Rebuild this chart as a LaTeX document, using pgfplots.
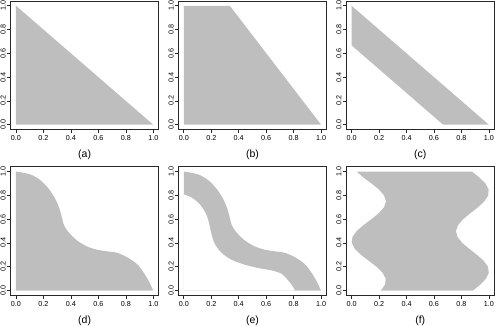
\documentclass[border=0pt]{standalone}
\usepackage{fontspec}
\setmainfont{Liberation Sans}
\usepackage{pgfplots}
\pgfplotsset{compat=1.18}

\definecolor{rgray}{RGB}{190,190,190}
\definecolor{rline}{RGB}{40,40,40}

\pgfplotsset{
  panel/.style={
    scale only axis, width=148.3pt, height=128.5pt, anchor=south west,
    xmin=-0.04, xmax=1.04, ymin=-0.04, ymax=1.04,
    xtick={0,0.2,0.4,0.6,0.8,1}, ytick={0,0.2,0.4,0.6,0.8,1},
    tick align=outside, xtick pos=bottom, ytick pos=left,
    major tick length=3.5pt,
    tick style={rline, line width=0.6pt},
    axis line style={rline, line width=0.8pt},
    axis on top,
    tick label style={font=\fontsize{7.2}{8}\selectfont},
    /pgf/number format/fixed,
    /pgf/number format/fixed zerofill,
    /pgf/number format/precision=1,
    /pgf/number format/assume math mode=true,
    yticklabel style={rotate=90, anchor=south, inner sep=1pt},
    xticklabel style={inner sep=1pt, yshift=-1.5pt},
    every axis x label/.style={at={(axis description cs:0.5,0)}, anchor=center,
      yshift=-25.5pt, font=\fontsize{10.5}{12}\selectfont},
  }
}

\begin{document}
\begin{tikzpicture}
\path[use as bounding box] (0,0) rectangle (495pt,326pt);

% (a)
\begin{axis}[panel, at={(10.5pt,196.5pt)}, xlabel={(a)}]
\addplot[fill=rgray, draw=none] coordinates {(0,1) (1,0)} \closedcycle;
\end{axis}

% (b)
\begin{axis}[panel, at={(178.3pt,196.5pt)}, xlabel={(b)}]
\addplot[fill=rgray, draw=none] coordinates {(0,1) (0.335,1) (1,0)} \closedcycle;
\end{axis}

% (c)
\begin{axis}[panel, at={(346.1pt,196.5pt)}, xlabel={(c)}]
\addplot[fill=rgray, draw=none] coordinates {(0,1) (1,0) (0.667,0) (0,0.667)} -- cycle;
\end{axis}

% (d)
\begin{axis}[panel, at={(10.5pt,30.7pt)}, xlabel={(d)}]
\addplot[fill=rgray, draw=none, smooth] coordinates {
(0,1) (0.102,0.977) (0.175,0.930) (0.236,0.859) (0.284,0.775) (0.316,0.690)
(0.333,0.620) (0.350,0.549) (0.381,0.493) (0.442,0.423) (0.515,0.372)
(0.587,0.344) (0.660,0.330) (0.733,0.318) (0.806,0.282) (0.879,0.225)
(0.927,0.155) (0.964,0.085) (0.988,0.028) (1,0)} \closedcycle;
\end{axis}

% (e)
\begin{axis}[panel, at={(178.3pt,30.7pt)}, xlabel={(e)}]
\addplot[fill=rgray, draw=none, smooth] coordinates {
(0,1) (0.102,0.977) (0.175,0.930) (0.236,0.859) (0.284,0.775) (0.316,0.690)
(0.333,0.620) (0.350,0.549) (0.381,0.493) (0.442,0.423) (0.515,0.372)
(0.587,0.344) (0.660,0.330) (0.733,0.318) (0.806,0.282) (0.879,0.225)
(0.927,0.155) (0.964,0.085) (0.988,0.028) (1,0)} \closedcycle;
\addplot[fill=white, draw=none, smooth] coordinates {
(0,0.808) (0.054,0.783) (0.102,0.741) (0.139,0.690) (0.170,0.620) (0.187,0.549)
(0.200,0.479) (0.224,0.394) (0.273,0.318) (0.345,0.259) (0.443,0.217)
(0.540,0.189) (0.637,0.169) (0.710,0.141) (0.759,0.085) (0.796,0.028)
(0.808,0)} \closedcycle;
\end{axis}

% (f)
\begin{axis}[panel, at={(346.1pt,30.7pt)}, xlabel={(f)}]
\addplot[fill=rgray, draw=none] coordinates {
(0.2134,0) (0.2439,0.05) (0.2485,0.10) (0.2261,0.15) (0.1817,0.20) (0.125,0.25)
(0.0683,0.30) (0.0239,0.35) (0.0015,0.40) (0.0061,0.45) (0.0366,0.50) (0.0864,0.55)
(0.1446,0.60) (0.1985,0.65) (0.2364,0.70) (0.25,0.75) (0.2364,0.80) (0.1985,0.85)
(0.1446,0.90) (0.0864,0.95) (0.0366,1)
(0.876,1) (0.931,0.95) (0.975,0.90) (0.998,0.85) (0.995,0.80) (0.967,0.75)
(0.921,0.70) (0.865,0.65) (0.813,0.60) (0.775,0.55) (0.760,0.50) (0.771,0.45)
(0.806,0.40) (0.858,0.35) (0.913,0.30) (0.962,0.25) (0.993,0.20) (0.999,0.15)
(0.979,0.10) (0.938,0.05) (0.884,0)} -- cycle;
\end{axis}

\end{tikzpicture}
\end{document}
